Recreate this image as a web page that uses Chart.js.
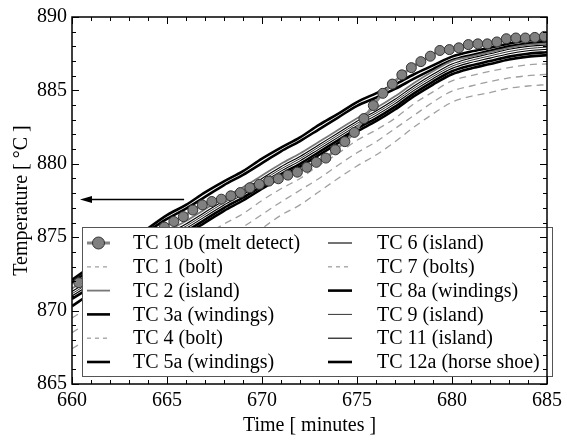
<!DOCTYPE html>
<html><head><meta charset="utf-8">
<script src="https://cdn.jsdelivr.net/npm/chart.js@4.4.0/dist/chart.umd.min.js"></script>
<style>html,body{margin:0;padding:0;background:#fff;overflow:hidden;} #wrap{width:567px;height:442px;position:relative;}</style>
</head><body><div id="wrap"><canvas id="c" width="567" height="442"></canvas></div>
<script>
// ---- data ----
const minutes = [660,661,662,663,664,665,666,667,668,669,670,671,672,673,674,675,676,677,678,679,680,681,682,683,684,685];
const meltTimes = [660.36,660.86,661.36,661.86,662.36,662.86,663.36,663.86,664.36,664.86,665.36,665.86,666.36,666.86,667.36,667.86,668.36,668.86,669.36,669.86,670.36,670.86,671.36,671.86,672.36,672.86,673.36,673.86,674.36,674.86,675.36,675.86,676.36,676.86,677.36,677.86,678.36,678.86,679.36,679.86,680.36,680.86,681.36,681.86,682.36,682.86,683.36,683.86,684.36,684.86];
const tc10b = [871.9,872.3,872.7,873.1,873.5,873.9,874.3,874.7,875.2,875.69,876.07,876.40,876.85,877.2,877.43,877.59,877.82,878.04,878.37,878.60,878.82,878.98,879.23,879.43,879.76,880.10,880.39,880.95,881.51,882.14,883.08,883.97,884.80,885.43,886.06,886.55,886.96,887.33,887.72,887.78,887.90,888.12,888.17,888.17,888.30,888.52,888.57,888.57,888.61,888.68];
const tc1  = [869.5,870.3,871.1,871.9,872.7,873.5,874.2,875.1,875.9,876.6,877.5,878.3,879.0,879.9,880.7,881.6,882.3,883.1,884.1,884.9,885.65,886.0,886.3,886.55,886.75,886.8];
const tc2  = [871.5,872.3,873.1,873.8,874.6,875.4,876.1,876.9,877.7,878.4,879.2,880.0,880.7,881.5,882.3,883.1,883.8,884.6,885.5,886.3,887.0,887.3,887.6,887.9,888.1,888.2];
const tc3a = [872.1,873.0,873.9,874.7,875.6,876.5,877.2,878.05,878.8,879.5,880.35,881.1,881.8,882.65,883.4,884.2,884.8,885.4,886.1,886.7,887.3,887.65,887.9,888.2,888.4,888.5];
const tc4  = [868.5,869.3,870.2,870.9,871.7,872.55,873.3,874.1,875.0,875.7,876.55,877.4,878.2,879.0,879.9,880.75,881.5,882.4,883.3,884.2,884.95,885.3,885.6,885.85,886.0,886.1];
const tc5a = [870.8,871.6,872.4,873.1,873.9,874.7,875.4,876.2,877.0,877.7,878.5,879.3,880.0,880.8,881.6,882.4,883.1,883.9,884.8,885.6,886.3,886.7,887.0,887.3,887.5,887.6];
const tc6  = [871.3,872.1,872.9,873.6,874.4,875.2,875.9,876.7,877.5,878.2,879.0,879.8,880.5,881.3,882.1,882.9,883.6,884.4,885.3,886.1,886.8,887.2,887.5,887.8,888.0,888.1];
const tc7  = [867.4,868.2,869.1,869.8,870.7,871.5,872.3,873.1,874.0,874.7,875.6,876.5,877.2,878.1,879.0,879.85,880.6,881.5,882.5,883.4,884.2,884.6,884.85,885.15,885.3,885.4];
const tc8a = [871.9,872.8,873.7,874.5,875.4,876.25,876.95,877.75,878.55,879.25,880.05,880.85,881.55,882.35,883.15,883.95,884.5,885.1,885.8,886.45,887.05,887.4,887.7,888.0,888.2,888.3];
const tc9  = [871.15,871.95,872.75,873.45,874.25,875.05,875.75,876.55,877.35,878.05,878.85,879.65,880.35,881.15,881.95,882.75,883.45,884.25,885.15,885.95,886.65,887.05,887.35,887.65,887.85,887.95];
const tc11 = [871.0,871.8,872.6,873.3,874.1,874.9,875.6,876.4,877.2,877.9,878.7,879.5,880.2,881.0,881.8,882.6,883.3,884.1,885.0,885.8,886.5,886.9,887.2,887.5,887.7,887.8];
const tc12a= [870.3,871.2,872.2,872.9,873.7,874.5,875.2,876.0,876.8,877.5,878.3,879.1,879.8,880.6,881.4,882.2,882.9,883.7,884.6,885.4,886.1,886.5,886.8,887.1,887.3,887.4];
const seriesLabels = ['TC 10b (melt detect)','TC 1 (bolt)','TC 2 (island)','TC 3a (windings)','TC 4 (bolt)','TC 5a (windings)','TC 6 (island)','TC 7 (bolts)','TC 8a (windings)','TC 9 (island)','TC 11 (island)','TC 12a (horse shoe)'];
const arrowY = 877.57, arrowFrom = 665.9, arrowTo = 660.42;

const FONT = '"Liberation Serif", "DejaVu Serif", serif';
const pts = (xs, ys) => ys.map((v,i)=>({x:xs[i], y:v}));
const dashedStyle = {borderColor:'#a0a0a0', borderWidth:1.3, borderDash:[7,5]};
function lineDs(label, vals, style){
  return Object.assign({label, data: pts(minutes, vals), pointRadius:0, fill:false, cubicInterpolationMode:'monotone'}, style);
}
const datasets = [
  {label:seriesLabels[0], data: pts(meltTimes, tc10b), borderColor:'#858585', borderWidth:3, pointRadius:5, pointHoverRadius:5,
   pointBackgroundColor:'#808080', pointBorderColor:'#333', pointBorderWidth:1, fill:false, cubicInterpolationMode:'monotone'},
  lineDs(seriesLabels[1], tc1, dashedStyle),
  lineDs(seriesLabels[2], tc2, {borderColor:'#777', borderWidth:1.8}),
  lineDs(seriesLabels[3], tc3a, {borderColor:'#000', borderWidth:2.6}),
  lineDs(seriesLabels[4], tc4, dashedStyle),
  lineDs(seriesLabels[5], tc5a, {borderColor:'#000', borderWidth:2.6}),
  lineDs(seriesLabels[6], tc6, {borderColor:'#000', borderWidth:1.1}),
  lineDs(seriesLabels[7], tc7, dashedStyle),
  lineDs(seriesLabels[8], tc8a, {borderColor:'#000', borderWidth:2.6}),
  lineDs(seriesLabels[9], tc9, {borderColor:'#333', borderWidth:1}),
  lineDs(seriesLabels[10], tc11, {borderColor:'#000', borderWidth:1.1}),
  lineDs(seriesLabels[11], tc12a, {borderColor:'#000', borderWidth:2.6}),
];

const overlay = {
  id:'overlay',
  afterDatasetsDraw(chart){
    const {ctx, scales:{x,y}} = chart;
    ctx.save();
    // legend box
    const bx0=82, by0=227, bx1=553, by1=377;
    ctx.fillStyle='#fff';
    ctx.fillRect(bx0,by0,bx1-bx0,by1-by0);
    ctx.strokeStyle='#555'; ctx.lineWidth=1;
    ctx.strokeRect(bx0+0.5,by0+0.5,bx1-bx0-1,by1-by0-1);
    ctx.font = '20px '+FONT;
    ctx.textBaseline='middle'; ctx.textAlign='left';
    chart.data.datasets.forEach((ds,i)=>{
      const col = i<6?0:1, row = i%6;
      const s0 = col?328:87, s1 = col?352:110, tx = col?377:133;
      const yc = 243 + row*23.8;
      ctx.save();
      ctx.strokeStyle = ds.borderColor; ctx.lineWidth = ds.borderWidth;
      ctx.setLineDash(ds.borderDash ? [4,4] : []);
      ctx.beginPath(); ctx.moveTo(s0,yc); ctx.lineTo(s1,yc); ctx.stroke();
      ctx.setLineDash([]);
      if (ds.pointRadius>0){
        ctx.beginPath(); ctx.arc((s0+s1)/2,yc,ds.pointRadius+1,0,Math.PI*2);
        ctx.fillStyle=ds.pointBackgroundColor; ctx.fill();
        ctx.strokeStyle=ds.pointBorderColor; ctx.lineWidth=1; ctx.stroke();
      }
      ctx.restore();
      ctx.fillStyle='#000';
      ctx.fillText(ds.label, tx, yc+1);
    });
    // arrow
    const ay = y.getPixelForValue(arrowY), ax0 = x.getPixelForValue(arrowFrom), ax1 = x.getPixelForValue(arrowTo);
    ctx.strokeStyle='#000'; ctx.lineWidth=1.5;
    ctx.beginPath(); ctx.moveTo(ax0,ay); ctx.lineTo(ax1+10,ay); ctx.stroke();
    ctx.fillStyle='#000';
    ctx.beginPath(); ctx.moveTo(ax1,ay); ctx.lineTo(ax1+12,ay-3.5); ctx.lineTo(ax1+12,ay+3.5); ctx.closePath(); ctx.fill();
    ctx.restore();
  },
  afterDraw(chart){
    const {ctx, chartArea:{left,right,top,bottom}, scales:{x,y}} = chart;
    ctx.save();
    ctx.strokeStyle='#000'; ctx.lineWidth=1;
    ctx.beginPath();
    for (let v=x.min; v<=x.max; v++){
      const px = Math.round(x.getPixelForValue(v))+0.5, len = (v%5===0)?7:4;
      ctx.moveTo(px,bottom); ctx.lineTo(px,bottom-len);
      ctx.moveTo(px,top); ctx.lineTo(px,top+len);
    }
    for (let v=y.min; v<=y.max; v++){
      const py = Math.round(y.getPixelForValue(v))+0.5, len = (v%5===0)?7:4;
      ctx.moveTo(left,py); ctx.lineTo(left+len,py);
      ctx.moveTo(right,py); ctx.lineTo(right-len,py);
    }
    ctx.stroke();
    ctx.lineWidth=1.5;
    ctx.strokeRect(left,top,right-left,bottom-top);
    ctx.restore();
  }
};

new Chart(document.getElementById('c'), {
  type:'line',
  data:{datasets},
  options:{
    responsive:false, maintainAspectRatio:false, devicePixelRatio:1, animation:false,
    layout:{padding:{top:12,right:13,left:0,bottom:0}},
    plugins:{legend:{display:false}, tooltip:{enabled:false}},
    scales:{
      x:{type:'linear', min:660, max:685,
         grid:{display:false, drawTicks:false}, border:{display:false},
         ticks:{stepSize:5, color:'#000', font:{family:FONT, size:20}, padding:5, maxRotation:0, autoSkip:false},
         title:{display:true, text:'Time [ minutes ]', color:'#000', font:{family:FONT, size:20}, padding:{top:0,bottom:4}},
         afterFit(s){ s.height = 58; }},
      y:{type:'linear', min:865, max:890,
         grid:{display:false, drawTicks:false}, border:{display:false},
         ticks:{stepSize:5, color:'#000', font:{family:FONT, size:20}, padding:5},
         title:{display:true, text:'Temperature [ °C ]', color:'#000', font:{family:FONT, size:20}, padding:{top:10,bottom:0}},
         afterFit(s){ s.width = 72; }}
    }
  },
  plugins:[overlay]
});
</script>
</body></html>
